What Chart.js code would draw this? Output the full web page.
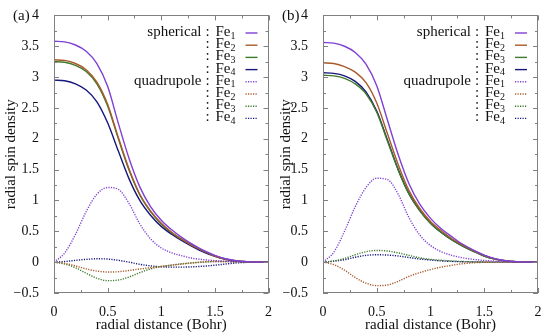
<!DOCTYPE html>
<html>
<head>
<meta charset="utf-8">
<script src="https://cdn.jsdelivr.net/npm/chart.js@4.4.0/dist/chart.umd.min.js"></script>
<style>
  body { margin: 0; background: #fff; }
  #wrap { position: relative; width: 550px; height: 334px; }
  canvas { position: absolute; top: 0; }
</style>
</head>
<body>
<div id="wrap">
  <canvas id="chartA" width="275" height="334" style="left:0"></canvas>
  <canvas id="chartB" width="275" height="334" style="left:275px"></canvas>
</div>
<script>
// radial distance grid (Bohr)
const radialDistance = [0, 0.1, 0.2, 0.3, 0.4, 0.5, 0.6, 0.7, 0.8, 0.9, 1.0,
                        1.1, 1.2, 1.3, 1.4, 1.5, 1.6, 1.7, 1.8, 1.9, 2.0];

// panel (a)
const aSphFe1 = [3.58, 3.57, 3.52, 3.42, 3.22, 2.85, 2.25, 1.68, 1.22, 0.90, 0.68, 0.52, 0.39, 0.28, 0.185, 0.11, 0.055, 0.022, 0.007, 0.002, 0];
const aSphFe2 = [3.28, 3.27, 3.22, 3.12, 2.92, 2.56, 2.02, 1.51, 1.10, 0.83, 0.63, 0.48, 0.36, 0.26, 0.175, 0.10, 0.05, 0.02, 0.006, 0.002, 0];
const aSphFe3 = [3.25, 3.24, 3.19, 3.09, 2.89, 2.53, 2.00, 1.49, 1.09, 0.82, 0.62, 0.47, 0.36, 0.26, 0.175, 0.10, 0.05, 0.02, 0.006, 0.002, 0];
const aSphFe4 = [2.95, 2.94, 2.89, 2.79, 2.60, 2.26, 1.80, 1.35, 1.00, 0.76, 0.58, 0.45, 0.34, 0.245, 0.16, 0.095, 0.047, 0.019, 0.006, 0.002, 0];
const aQuadFe1 = [0, 0.15, 0.45, 0.82, 1.10, 1.21, 1.18, 0.95, 0.62, 0.38, 0.23, 0.15, 0.10, 0.06, 0.04, 0.025, 0.015, 0.008, 0.003, 0.001, 0];
const aQuadFe2 = [0, -0.02, -0.06, -0.11, -0.145, -0.16, -0.155, -0.135, -0.11, -0.09, -0.07, -0.05, -0.03, -0.01, 0.005, 0.01, 0.01, 0.005, 0.002, 0, 0];
const aQuadFe3 = [0, -0.03, -0.09, -0.18, -0.26, -0.30, -0.29, -0.24, -0.17, -0.11, -0.07, -0.045, -0.025, -0.01, 0, 0.01, 0.01, 0.005, 0.002, 0, 0];
const aQuadFe4 = [0, 0.01, 0.03, 0.045, 0.055, 0.05, 0.03, 0, -0.035, -0.06, -0.075, -0.08, -0.08, -0.075, -0.065, -0.05, -0.03, -0.012, -0.004, -0.001, 0];

// panel (b)
const bSphFe1 = [3.56, 3.55, 3.50, 3.40, 3.21, 2.86, 2.30, 1.74, 1.27, 0.94, 0.71, 0.54, 0.41, 0.29, 0.195, 0.115, 0.057, 0.023, 0.007, 0.002, 0];
const bSphFe2 = [3.23, 3.22, 3.17, 3.08, 2.91, 2.58, 2.08, 1.58, 1.16, 0.87, 0.66, 0.51, 0.38, 0.28, 0.185, 0.11, 0.054, 0.022, 0.007, 0.002, 0];
const bSphFe3 = [3.03, 3.02, 2.98, 2.89, 2.73, 2.43, 1.96, 1.49, 1.10, 0.83, 0.63, 0.48, 0.36, 0.26, 0.175, 0.10, 0.05, 0.02, 0.006, 0.002, 0];
const bSphFe4 = [3.07, 3.06, 3.02, 2.93, 2.76, 2.45, 1.98, 1.50, 1.11, 0.84, 0.63, 0.48, 0.36, 0.26, 0.175, 0.10, 0.05, 0.02, 0.006, 0.002, 0];
const bQuadFe1 = [0, 0.16, 0.50, 0.90, 1.21, 1.36, 1.34, 1.10, 0.72, 0.44, 0.27, 0.17, 0.11, 0.07, 0.045, 0.028, 0.016, 0.008, 0.003, 0.001, 0];
const bQuadFe2 = [0, -0.04, -0.13, -0.25, -0.34, -0.38, -0.37, -0.31, -0.23, -0.17, -0.12, -0.08, -0.05, -0.025, -0.01, -0.003, 0, 0, 0, 0, 0];
const bQuadFe3 = [0, 0.02, 0.06, 0.12, 0.17, 0.19, 0.18, 0.15, 0.11, 0.07, 0.045, 0.03, 0.018, 0.01, 0.005, 0.002, 0, 0, 0, 0, 0];
const bQuadFe4 = [0, 0.015, 0.04, 0.08, 0.11, 0.12, 0.115, 0.10, 0.075, 0.05, 0.035, 0.02, 0.012, 0.006, 0.003, 0.001, 0, 0, 0, 0, 0];

const atomLabels = ['1', '2', '3', '4'];
const groupLabels = ['spherical', 'quadrupole'];
const yTicks = [-0.5, 0, 0.5, 1, 1.5, 2, 2.5, 3, 3.5, 4];
const xTicks = [0, 0.5, 1, 1.5, 2];

const colors = ['#7f40d4', '#a85a2a', '#3f7a2a', '#16167c'];
const serif = '"Liberation Serif", "DejaVu Serif", serif';

function pts(values) {
  return radialDistance.map((x, i) => ({ x: x, y: values[i] }));
}

function buildSets(sph, quad) {
  const sets = [];
  sph.forEach((v, i) => sets.push({
    label: groupLabels[0] + ' Fe' + atomLabels[i], group: i === 0 ? groupLabels[0] : '', sub: atomLabels[i],
    data: pts(v), borderColor: colors[i], borderWidth: 1.4, borderDash: []
  }));
  quad.forEach((v, i) => sets.push({
    label: groupLabels[1] + ' Fe' + atomLabels[i], group: i === 0 ? groupLabels[1] : '', sub: atomLabels[i],
    data: pts(v), borderColor: colors[i], borderWidth: 1.4, borderDash: [1.2, 1.3]
  }));
  return sets;
}

// inward ticks on all four sides, frame, legend and panel letter
const decorations = {
  id: 'decorations',
  afterDraw(chart) {
    const { ctx, chartArea: a, scales } = chart;
    const x = scales.x, y = scales.y;
    ctx.save();
    ctx.strokeStyle = '#808080';
    ctx.lineWidth = 1;
    ctx.strokeRect(Math.round(a.left) + 0.5, Math.round(a.top) + 0.5,
                   Math.round(a.right - a.left) - 1, Math.round(a.bottom - a.top) - 1);
    ctx.beginPath();
    for (let i = 0; i <= 8; i++) {
      const px = Math.round(x.getPixelForValue(i * 0.25)) + 0.5;
      const len = i % 2 === 0 ? 5 : 3;
      ctx.moveTo(px, a.bottom); ctx.lineTo(px, a.bottom - len);
      ctx.moveTo(px, a.top); ctx.lineTo(px, a.top + len);
    }
    for (let i = 0; i <= 18; i++) {
      const py = Math.round(y.getPixelForValue(-0.5 + i * 0.25)) + 0.5;
      const len = i % 2 === 0 ? 5 : 3;
      ctx.moveTo(a.left, py); ctx.lineTo(a.left + len, py);
      ctx.moveTo(a.right, py); ctx.lineTo(a.right - len, py);
    }
    ctx.stroke();

    // legend
    const r = a.right;
    chart.data.datasets.forEach((ds, i) => {
      const ly = 32 + i * 12.2;
      ctx.fillStyle = '#111';
      ctx.textBaseline = 'middle';
      ctx.font = '15px ' + serif;
      if (ds.group) {
        ctx.textAlign = 'right';
        ctx.fillText(ds.group, r - 67, ly);
      }
      ctx.textAlign = 'center';
      ctx.fillText(':', r - 61, ly);
      ctx.textAlign = 'left';
      ctx.fillText('Fe', r - 53, ly);
      const w = ctx.measureText('Fe').width;
      ctx.font = '10px ' + serif;
      ctx.fillText(ds.sub, r - 53 + w, ly + 4);
      ctx.strokeStyle = ds.borderColor;
      ctx.lineWidth = 1.4;
      ctx.setLineDash(ds.borderDash);
      ctx.beginPath();
      ctx.moveTo(r - 23, ly + 1);
      ctx.lineTo(r - 11, ly + 1);
      ctx.stroke();
      ctx.setLineDash([]);
    });

    // panel letter
    ctx.fillStyle = '#111';
    ctx.font = '15px ' + serif;
    ctx.textAlign = 'left';
    ctx.textBaseline = 'middle';
    ctx.fillText(chart.options.panelLetter, chart.options.letterX, 16);
    ctx.restore();
  }
};

function makePanel(id, sets, letter, letterX, yWidth, padRight) {
  return new Chart(document.getElementById(id), {
    type: 'line',
    data: { datasets: sets },
    options: {
      panelLetter: letter,
      letterX: letterX,
      responsive: false,
      animation: false,
      layout: { padding: { top: 14, right: padRight, left: 0, bottom: 0 } },
      elements: { point: { radius: 0 }, line: { cubicInterpolationMode: 'monotone' } },
      plugins: { legend: { display: false }, tooltip: { enabled: false } },
      scales: {
        x: {
          type: 'linear', min: 0, max: 2,
          afterBuildTicks(s) { s.ticks = xTicks.map(v => ({ value: v })); },
          ticks: { color: '#111', font: { family: serif, size: 14 }, padding: 3, maxRotation: 0,
                   callback: v => String(v) },
          grid: { display: false },
          border: { display: false },
          title: { display: true, text: 'radial distance (Bohr)', color: '#111',
                   font: { family: serif, size: 15 }, padding: { top: 0, bottom: 0 } },
          afterFit(s) { s.height = 41; }
        },
        y: {
          type: 'linear', min: -0.5, max: 4,
          afterBuildTicks(s) { s.ticks = yTicks.map(v => ({ value: v })); },
          ticks: { color: '#111', font: { family: serif, size: 14 }, padding: 7,
                   callback: v => v < 0 ? '\u2212' + Math.abs(v) : String(v) },
          grid: { display: false },
          border: { display: false },
          title: { display: true, text: 'radial spin density', color: '#111',
                   font: { family: serif, size: 15 }, padding: { top: 2, bottom: 0 } },
          afterFit(s) { s.width = yWidth; }
        }
      }
    },
    plugins: [decorations]
  });
}

makePanel('chartA', buildSets([aSphFe1, aSphFe2, aSphFe3, aSphFe4], [aQuadFe1, aQuadFe2, aQuadFe3, aQuadFe4]), '(a)', 13, 54, 6);
makePanel('chartB', buildSets([bSphFe1, bSphFe2, bSphFe3, bSphFe4], [bQuadFe1, bQuadFe2, bQuadFe3, bQuadFe4]), '(b)', 7, 48, 12);
</script>
</body>
</html>
